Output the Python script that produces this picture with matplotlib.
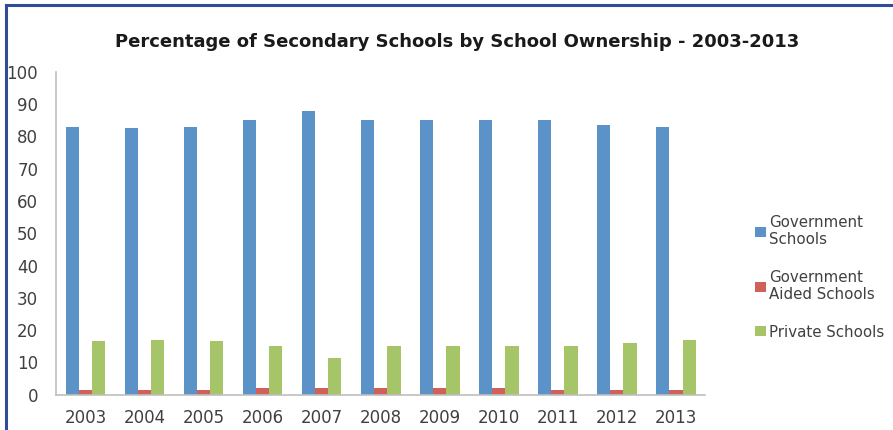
import numpy as np
from matplotlib import pyplot as plt
from matplotlib.lines import Line2D

years = ['2003', '2004', '2005', '2006', '2007', '2008', '2009', '2010', '2011', '2012', '2013']
gov = [83, 82.7, 83, 85, 88, 85, 85, 85, 85, 83.5, 83]
aided = [1.5, 1.5, 1.5, 2, 2, 2, 2, 2, 1.5, 1.5, 1.5]
private = [16.5, 17, 16.5, 15, 11.5, 15, 15, 15, 15, 16, 17]
names = ['Government\nSchools', 'Government\nAided Schools', 'Private Schools']
colors = ['#5b93c9', '#d0605a', '#a6c468']

plt.rcParams['font.family'] = ['DejaVu Sans']

fig = plt.figure(figsize=(8.93, 4.30), dpi=100)
ax = fig.add_axes([0.063, 0.082, 0.727, 0.751])

x = np.arange(len(years))
w = 0.222
for i, vals in enumerate([gov, aided, private]):
    ax.bar(x + (i - 1) * w, vals, width=w, color=colors[i], label=names[i])

ax.set_xlim(-0.5, len(years) - 0.5)
ax.set_ylim(0, 100)
ax.set_yticks(range(0, 101, 10))
ax.set_xticks(x)
ax.set_xticklabels(years)
for s in ['top', 'right']:
    ax.spines[s].set_visible(False)
for s in ['left', 'bottom']:
    ax.spines[s].set_color('#bfbfbf')
    ax.spines[s].set_linewidth(1.2)
ax.tick_params(length=0, labelsize=12, colors='#404040')
ax.tick_params(axis='x', pad=10)
ax.tick_params(axis='y', pad=13)

fig.text(0.512, 0.902, 'Percentage of Secondary Schools by School Ownership - 2003-2013',
         ha='center', va='center', fontsize=13, fontweight='bold', color='#1a1a1a')

leg = fig.legend(loc='center left', bbox_to_anchor=(0.83, 0.355), frameon=False,
                 fontsize=10.8, handlelength=0.75, handleheight=0.65, handletextpad=0.2,
                 labelspacing=1.5, labelcolor='#404040')

# outer border lines (top and left)
fig.add_artist(Line2D([0.007, 1], [0.988, 0.988], color='#2e4c9a', lw=2.2))
fig.add_artist(Line2D([0.007, 0.007], [0, 0.988], color='#2e4c9a', lw=2.2))

fig.savefig('out.png', dpi=100)
